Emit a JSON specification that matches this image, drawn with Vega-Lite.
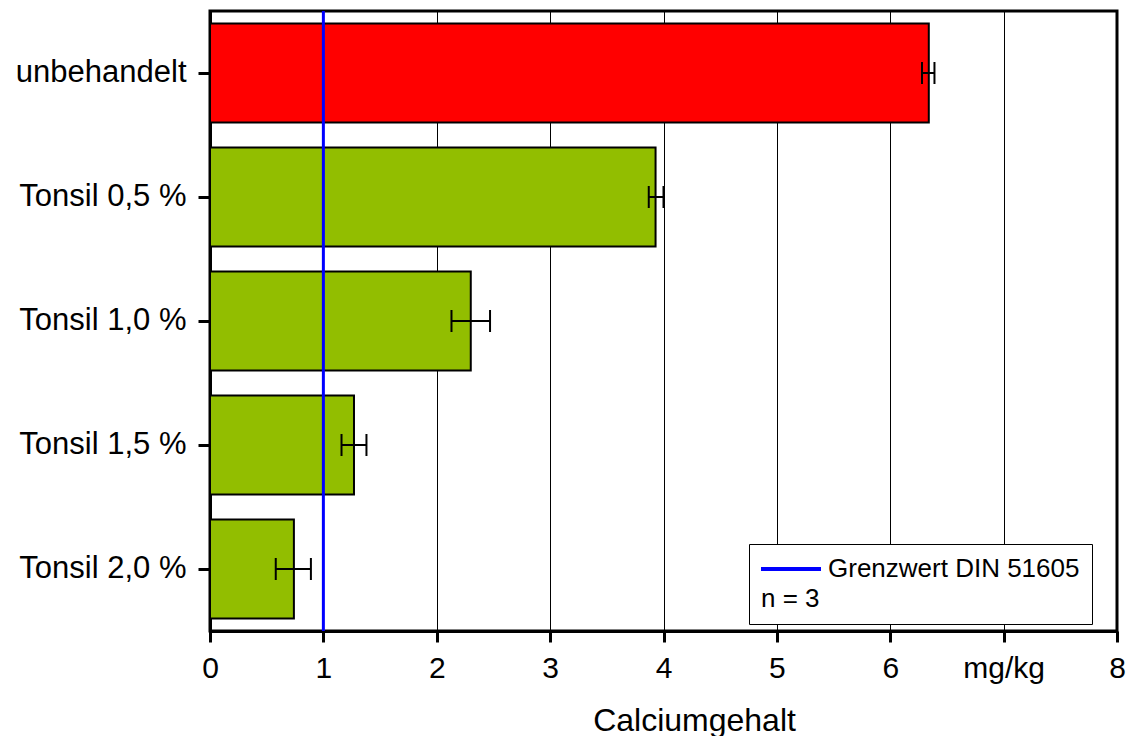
{
  "$schema": "https://vega.github.io/schema/vega-lite/v6.json",
  "autosize": {"type": "none"},
  "width": 907,
  "height": 620,
  "padding": {"left": 210, "top": 11, "right": 9, "bottom": 105},
  "background": "white",
  "config": {
    "font": "Liberation Sans",
    "view": {"stroke": "black", "strokeWidth": 3},
    "axis": {
      "labelColor": "black",
      "titleColor": "black",
      "domainColor": "black",
      "tickColor": "black",
      "domainWidth": 3,
      "tickWidth": 3
    }
  },
  "datasets": {
    "samples": [
      {"sample": "unbehandelt", "value": 6.34, "lo": 6.28, "hi": 6.39, "group": "ref"},
      {"sample": "Tonsil 0,5 %", "value": 3.93, "lo": 3.87, "hi": 4.0, "group": "tonsil"},
      {"sample": "Tonsil 1,0 %", "value": 2.3, "lo": 2.13, "hi": 2.47, "group": "tonsil"},
      {"sample": "Tonsil 1,5 %", "value": 1.27, "lo": 1.16, "hi": 1.38, "group": "tonsil"},
      {"sample": "Tonsil 2,0 %", "value": 0.74, "lo": 0.58, "hi": 0.89, "group": "tonsil"}
    ],
    "limit": [
      {"limit": 1, "label": "Grenzwert DIN 51605"}
    ]
  },
  "layer": [
    {
      "data": {"name": "samples"},
      "mark": {"type": "bar", "stroke": "black", "strokeWidth": 2},
      "encoding": {
        "y": {
          "field": "sample",
          "type": "nominal",
          "sort": null,
          "scale": {"paddingInner": 0.2, "paddingOuter": 0.1},
          "axis": {
            "title": null,
            "labelFontSize": 31,
            "tickSize": 12,
            "labelPadding": 12,
            "grid": false
          }
        },
        "x": {
          "field": "value",
          "type": "quantitative",
          "scale": {"domain": [0, 8], "nice": false},
          "axis": {
            "title": "Calciumgehalt",
            "titleFontSize": 32,
            "titleFontWeight": "normal",
            "titlePadding": 22,
            "titleX": 484,
            "labelFontSize": 30,
            "values": [0, 1, 2, 3, 4, 5, 6, 7, 8],
            "format": "d",
            "labelExpr": "datum.value == 7 ? 'mg/kg' : datum.label",
            "tickSize": 11,
            "labelPadding": 11,
            "labelFlush": false,
            "grid": true,
            "gridColor": "black",
            "gridWidth": 1,
            "gridOpacity": 1
          }
        },
        "fill": {
          "field": "group",
          "type": "nominal",
          "scale": {"domain": ["ref", "tonsil"], "range": ["#FF0000", "#92BE00"]},
          "legend": null
        }
      }
    },
    {
      "data": {"name": "limit"},
      "mark": {"type": "rule", "strokeWidth": 3},
      "encoding": {
        "x": {"field": "limit", "type": "quantitative"},
        "stroke": {
          "field": "label",
          "type": "nominal",
          "scale": {"range": ["#0000FF"]},
          "legend": {
            "orient": "none",
            "legendX": 539,
            "legendY": 533,
            "title": "n = 3",
            "titleOrient": "bottom",
            "titleAlign": "left",
            "titleFontSize": 26,
            "titleFontWeight": "normal",
            "titleColor": "black",
            "titlePadding": 4,
            "labelFontSize": 26,
            "labelColor": "black",
            "labelLimit": 400,
            "labelOffset": 41,
            "symbolType": "M-1.3,0H4.7",
            "symbolSize": 400,
            "symbolStrokeWidth": 4,
            "strokeColor": "black",
            "fillColor": "white",
            "padding": 12
          }
        }
      }
    },
    {
      "data": {"name": "samples"},
      "mark": {"type": "rule", "stroke": "black", "strokeWidth": 2},
      "encoding": {
        "y": {"field": "sample", "type": "nominal", "sort": null},
        "x": {"field": "lo", "type": "quantitative"},
        "x2": {"field": "hi"}
      }
    },
    {
      "data": {"name": "samples"},
      "mark": {"type": "tick", "color": "black", "size": 22, "thickness": 2, "opacity": 1},
      "encoding": {
        "y": {"field": "sample", "type": "nominal", "sort": null},
        "x": {"field": "lo", "type": "quantitative"}
      }
    },
    {
      "data": {"name": "samples"},
      "mark": {"type": "tick", "color": "black", "size": 22, "thickness": 2, "opacity": 1},
      "encoding": {
        "y": {"field": "sample", "type": "nominal", "sort": null},
        "x": {"field": "hi", "type": "quantitative"}
      }
    }
  ]
}
